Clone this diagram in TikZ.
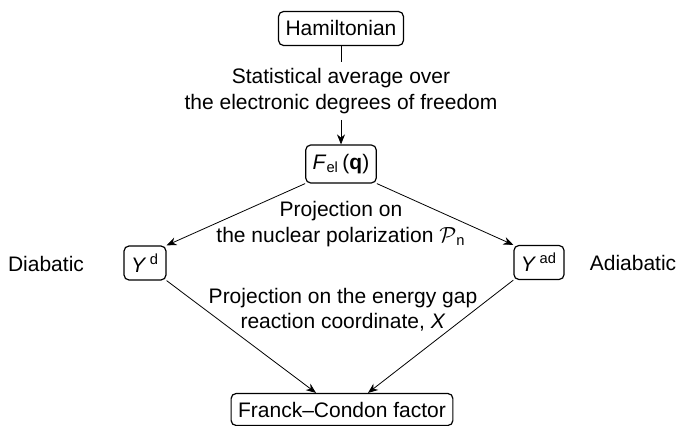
\documentclass[tikz,border=0pt]{standalone}
\usepackage{fontspec}
\setmainfont{Liberation Sans}
\usetikzlibrary{arrows.meta}
\begin{document}
\begin{tikzpicture}[x=0.5pt,y=-0.5pt,
  font=\fontsize{10.5}{12.6}\selectfont,
  box/.style={draw,rounded corners=2.5pt,line width=0.6pt,inner xsep=3.5pt,inner ysep=0pt,minimum height=17pt},
  lbl/.style={align=center,inner sep=1pt},
  arr/.style={-{Stealth[length=5pt,width=4pt]},line width=0.4pt}]
\useasboundingbox (0,0) rectangle (683,426);
\node[box] (ham) at (341,28.5) {Hamiltonian};
\node[lbl,inner ysep=3pt] (lab1) at (341,91) {Statistical average over\\the electronic degrees of freedom};
\node[box,minimum height=19pt] (fel) at (341,164) {\textit{F}\textsubscript{el}\,(\textbf{q})};
\node[box] (yd) at (145,263) {\textit{Y}\,\textsuperscript{d}};
\node[box] (yad) at (539,262.5) {\textit{Y}\,\textsuperscript{ad}};
\node[lbl] (dia) at (46,264) {Diabatic};
\node[lbl] (adia) at (633,263) {Adiabatic};
\node[box,minimum height=16pt] (fc) at (342,409.5) {Franck--Condon factor};
\node[lbl] (lab2) at (341,224) {Projection on\\the nuclear polarization \(\mathcal{P}\)\textsubscript{n}};
\node[lbl] (lab3) at (343,310) {Projection on the energy gap\\reaction coordinate, \textit{X}};
\draw[line width=0.4pt] (ham.south) -- (lab1.north);
\draw[arr] (lab1.south) -- (fel.north);
\draw[arr] (fel.south west) -- (yd.north east);
\draw[arr] (fel.south east) -- (yad.north west);
\draw[arr] (yd.south east) -- ([xshift=-13pt]fc.north);
\draw[arr] (yad.south west) -- ([xshift=13pt]fc.north);
\end{tikzpicture}
\end{document}
